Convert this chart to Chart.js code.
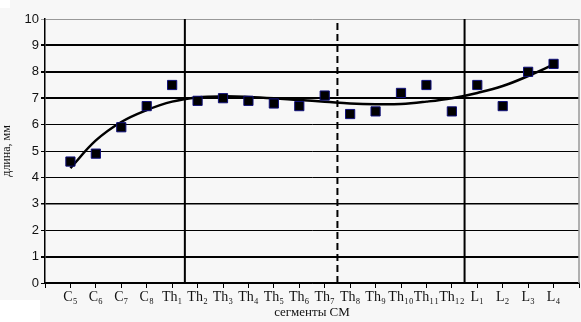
<!DOCTYPE html>
<html>
<head>
<meta charset="utf-8">
<script src="https://cdn.jsdelivr.net/npm/chart.js@4"></script>
<style>
  html, body { margin: 0; padding: 0; background: #f7f7f7; }
  #wrap { width: 581px; height: 322px; }
</style>
</head>
<body>
<div id="wrap"><canvas id="chart" width="581" height="322"></canvas></div>
<script>
// сегменты СМ
const segments = ['', 'C₅', 'C₆', 'C₇', 'C₈', 'Th₁', 'Th₂', 'Th₃', 'Th₄', 'Th₅', 'Th₆', 'Th₇',
  'Th₈', 'Th₉', 'Th₁₀', 'Th₁₁', 'Th₁₂', 'L₁', 'L₂', 'L₃', 'L₄', ''];

// длина, мм (точки)
const lengths = [4.6, 4.9, 5.9, 6.7, 7.5, 6.9, 7.0, 6.9, 6.8, 6.7, 7.1,
  6.4, 6.5, 7.2, 7.5, 6.5, 7.5, 6.7, 8.0, 8.3];

// линия тренда
const trend = [4.35, 5.4, 6.1, 6.55, 6.87, 7.03, 7.07, 7.05, 7.0, 6.93, 6.87,
  6.8, 6.77, 6.78, 6.87, 7.0, 7.2, 7.46, 7.84, 8.27];

// границы отделов
const borders = [5.5, 11.5, 16.5];

const yTicks = [0, 1, 2, 3, 4, 5, 6, 7, 8, 9, 10];
const gridWidths = [1, 2, 1, 1.5, 1, 1, 1, 2, 2, 2, 1];

const points = lengths.map((v, i) => ({ x: i + 1, y: v }));
const trendPts = trend.map((v, i) => ({ x: i + 1, y: v }));

const borderSets = borders.map((b, i) => ({
  type: 'line',
  data: [{ x: b, y: 0 }, { x: b, y: 10 }],
  borderColor: '#000',
  borderWidth: 2,
  borderDash: i === 1 ? [7, 4] : [],
  pointRadius: 0,
  order: 3
}));

new Chart(document.getElementById('chart'), {
  type: 'scatter',
  data: {
    datasets: [
      {
        data: points,
        backgroundColor: '#000',
        borderColor: '#10107a',
        borderWidth: 1,
        pointStyle: 'rect',
        pointRadius: 6.5,
        order: 1
      },
      {
        type: 'line',
        data: trendPts,
        borderColor: '#000',
        borderWidth: 2.5,
        tension: 0.4,
        pointRadius: 0,
        fill: false,
        order: 2
      },
      ...borderSets
    ]
  },
  options: {
    responsive: false,
    animation: false,
    layout: { padding: { left: 0, right: 2, top: 19, bottom: 2 } },
    plugins: { legend: { display: false }, tooltip: { enabled: false } },
    scales: {
      x: {
        type: 'linear',
        min: 0,
        max: 21,
        afterBuildTicks: s => { s.ticks = segments.map((_, i) => ({ value: i })); },
        grid: { drawOnChartArea: false, color: '#000', tickLength: 5 },
        border: { color: '#000', width: 1.5 },
        ticks: {
          autoSkip: false,
          maxRotation: 0,
          padding: 1,
          color: '#111',
          font: { family: 'Liberation Serif', size: 14 },
          callback: (v) => segments[v]
        },
        title: {
          display: true,
          text: 'сегменты СМ',
          color: '#111',
          padding: { top: 0, bottom: 0 },
          font: { family: 'Liberation Serif', size: 13 }
        },
        afterFit: s => { s.height = 37; }
      },
      y: {
        min: 0,
        max: 10,
        afterBuildTicks: s => { s.ticks = yTicks.map(v => ({ value: v })); },
        grid: {
          color: c => c.index === 10 ? '#999' : '#000',
          lineWidth: c => gridWidths[c.index],
          tickLength: 4
        },
        border: { color: '#000', width: 1.5 },
        ticks: {
          padding: 2,
          color: '#111',
          font: { family: 'Liberation Sans', size: 13 }
        },
        title: {
          display: true,
          text: 'длина, мм',
          color: '#111',
          padding: { top: 0, bottom: 2 },
          font: { family: 'Liberation Serif', size: 12 }
        },
        afterFit: s => { s.width = 45; }
      }
    }
  },
  plugins: [{
    id: 'frame',
    afterLayout(chart) {
      // растянуть область графика до правого края
      const x = chart.scales.x;
      const a = chart.chartArea;
      const r = chart.width - 2;
      x.right = r;
      x.width = r - x.left;
      x.configure();
      a.right = r;
      a.width = r - a.left;
    },
    beforeDraw(chart) {
      const { ctx } = chart;
      ctx.save();
      ctx.fillStyle = '#f7f7f7';
      ctx.fillRect(0, 0, chart.width, chart.height);
      ctx.fillStyle = '#fff';
      ctx.fillRect(0, 0, 10, 8);
      ctx.fillRect(0, 300, 40, 22);
      ctx.restore();
    },
    afterDatasetsDraw(chart) {
      const { ctx, chartArea: a } = chart;
      ctx.save();
      ctx.strokeStyle = '#999';
      ctx.lineWidth = 1.5;
      ctx.beginPath();
      ctx.moveTo(a.right, a.top);
      ctx.lineTo(a.right, a.bottom);
      ctx.stroke();
      ctx.restore();
    }
  }]
});
</script>
</body>
</html>
